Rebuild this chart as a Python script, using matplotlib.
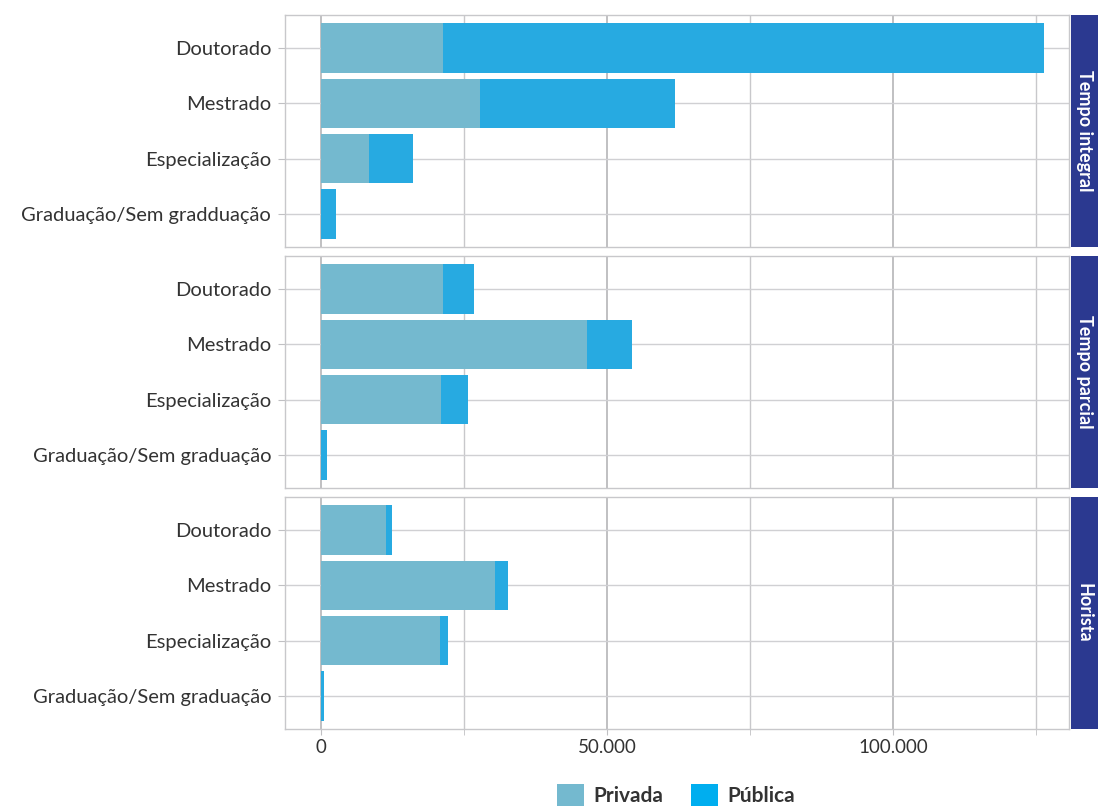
import numpy as np
import matplotlib
matplotlib.use("Agg")
import matplotlib.pyplot as plt
from matplotlib.patches import Patch
from matplotlib.ticker import FuncFormatter, MultipleLocator

plt.rcParams["font.family"] = ["Lato", "DejaVu Sans"]

# ==================================================
# Data
# ==================================================

panels = ["Tempo integral", "Tempo parcial", "Horista"]

labels_integral = ["Doutorado", "Mestrado", "Especialização", "Graduação/Sem gradduação"]
labels_other = ["Doutorado", "Mestrado", "Especialização", "Graduação/Sem graduação"]

privada_integral = [21300, 27800, 8400, 0]
publica_integral = [105100, 34100, 7700, 2600]

privada_parcial = [21300, 46500, 21000, 0]
publica_parcial = [5400, 7900, 4700, 1050]

privada_horista = [11400, 30400, 20800, 0]
publica_horista = [1000, 2300, 1400, 500]

data = [
    (labels_integral, privada_integral, publica_integral),
    (labels_other, privada_parcial, publica_parcial),
    (labels_other, privada_horista, publica_horista),
]

c_priv = "#74b9cf"
c_pub = "#27aae1"
strip_col = "#2b3990"

# ==================================================
# Figure
# ==================================================

fig = plt.figure(figsize=(10.98, 8.06), dpi=100)

W, H = 1098, 806
left, right = 285, 1069
tops = [15, 256, 497]
ph = 232


def thousands(x, pos):
    return f"{int(x):,}".replace(",", ".")


for k, (labs, priv, pub) in enumerate(data):

    top = tops[k]
    ax = fig.add_axes([left / W, 1 - (top + ph) / H, (right - left) / W, ph / H])

    y = np.arange(len(labs))

    ax.barh(y, priv, height=0.9, color=c_priv, zorder=3)
    ax.barh(y, pub, left=priv, height=0.9, color=c_pub, zorder=3)

    ax.set_xlim(-6300, 130800)
    ax.set_ylim(3.6, -0.6)

    ax.set_yticks(y)
    ax.set_yticklabels(labs, fontsize=14.5, color="#333333")

    ax.xaxis.set_major_locator(MultipleLocator(50000))
    ax.xaxis.set_minor_locator(MultipleLocator(25000))
    ax.xaxis.set_major_formatter(FuncFormatter(thousands))

    ax.grid(axis="x", which="major", color="#b5b5b8", lw=1.2, zorder=0)
    ax.grid(axis="x", which="minor", color="#c8c8cb", lw=1.0, zorder=0)
    ax.grid(axis="y", color="#d0d0d3", lw=1.0, zorder=0)

    for s in ax.spines.values():
        s.set_color("#c8c8cb")
        s.set_linewidth(1.0)

    ax.tick_params(axis="y", length=5, color="#c0c0c3", pad=5)
    ax.tick_params(axis="x", which="both", length=4, color="#c0c0c3",
                   labelsize=13.5, labelcolor="#333333")
    ax.tick_params(axis="x", which="minor", labelbottom=False)

    if k < 2:
        ax.tick_params(axis="x", which="both", labelbottom=False, length=0)

    # strip on the right
    sax = fig.add_axes([1071 / W, 1 - (top + ph) / H, 27 / W, ph / H])
    sax.set_facecolor(strip_col)
    sax.set_xticks([])
    sax.set_yticks([])
    for s in sax.spines.values():
        s.set_visible(False)
    sax.text(0.5, 0.5, panels[k], rotation=-90, ha="center", va="center",
             color="white", fontsize=13, fontweight="bold",
             transform=sax.transAxes)

handles = [
    Patch(facecolor="#74b9cf", label="Privada"),
    Patch(facecolor="#00aeef", label="Pública"),
]

fig.legend(
    handles=handles,
    loc="center",
    bbox_to_anchor=(676 / W, 1 - 795 / H),
    ncol=2,
    frameon=False,
    prop={"size": 15, "weight": "bold"},
    handlelength=1.3,
    handleheight=1.3,
    handletextpad=0.45,
    columnspacing=1.3,
    labelcolor="#333333",
)

plt.savefig("out.png", dpi=100)
plt.close()
